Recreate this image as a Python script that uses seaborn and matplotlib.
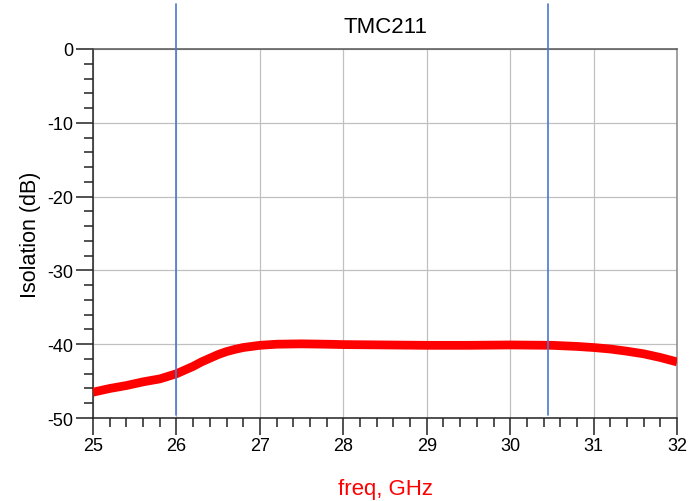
import matplotlib
matplotlib.use("Agg")
import matplotlib.pyplot as plt
from matplotlib.ticker import MultipleLocator
import seaborn as sns
import pandas as pd

freq = [25.0, 25.2, 25.4, 25.6, 25.8, 26.0, 26.1, 26.2, 26.3, 26.4, 26.5, 26.6, 26.7,
        26.8, 26.9, 27.0, 27.2, 27.5, 27.8, 28.0, 28.5, 29.0, 29.5, 30.0, 30.5,
        30.8, 31.0, 31.2, 31.4, 31.6, 31.8, 32.0]
isolation = [-46.5, -46.0, -45.6, -45.1, -44.7, -44.0, -43.5, -43.0, -42.4, -41.9, -41.4, -41.0, -40.7,
             -40.45, -40.3, -40.15, -40.0, -39.95, -40.0, -40.05, -40.1, -40.15, -40.15, -40.1, -40.15,
             -40.3, -40.45, -40.65, -40.95, -41.3, -41.8, -42.4]
markers = [26.0, 30.45]
title = "TMC211"
xlabel = "freq, GHz"
ylabel = "Isolation (dB)"

sns.set_style("white")
plt.rcParams['font.family'] = ['Liberation Sans', 'DejaVu Sans']
plt.rcParams['axes.unicode_minus'] = False
plt.rcParams['text.color'] = 'black'
plt.rcParams['axes.labelcolor'] = 'black'
plt.rcParams['xtick.color'] = 'black'
plt.rcParams['ytick.color'] = 'black'
plt.rcParams['xtick.bottom'] = True
plt.rcParams['ytick.left'] = True
plt.rcParams['xtick.major.size'] = 12
plt.rcParams['ytick.major.size'] = 12
plt.rcParams['xtick.minor.size'] = 6.5
plt.rcParams['ytick.minor.size'] = 6.5
plt.rcParams['xtick.direction'] = 'out'
plt.rcParams['ytick.direction'] = 'out'

fig = plt.figure(figsize=(6.89, 5.02), dpi=100)
ax = fig.add_axes([0.135, 0.1653, 0.8477, 0.7351])

df = pd.DataFrame({"freq": freq, "iso": isolation})
sns.lineplot(data=df, x="freq", y="iso", ax=ax, color="#ff0000", linewidth=6.3,
             solid_capstyle="butt", solid_joinstyle="round", zorder=3)

ax.set_xlim(25, 32)
ax.set_ylim(-50, 0)
ax.xaxis.set_major_locator(MultipleLocator(1))
ax.xaxis.set_minor_locator(MultipleLocator(0.2))
ax.yaxis.set_major_locator(MultipleLocator(10))
ax.yaxis.set_minor_locator(MultipleLocator(2))
ax.grid(True, which="major", color="#c0c0c0", linewidth=0.9, zorder=0)
ax.tick_params(which="major", width=1.1, color="#222222", labelsize=13, pad=2)
ax.tick_params(which="minor", width=1.1, color="#222222")

for side in ["left", "bottom"]:
    ax.spines[side].set_color("#222222")
    ax.spines[side].set_linewidth(1.1)
ax.spines["top"].set_color("#555555")
ax.spines["top"].set_linewidth(1.1)
ax.spines["right"].set_color("#888888")
ax.spines["right"].set_linewidth(1.1)

for m in markers:
    ax.axvline(m, ymin=0.008, ymax=1.122, color="#4a78d0", linewidth=1.2,
               clip_on=False, zorder=4)

ax.set_xlabel(xlabel, color="#ff0000", fontsize=16, labelpad=17)
ax.set_ylabel(ylabel, fontsize=15.5, labelpad=5)
ax.set_title(title, fontsize=16, pad=12)

fig.savefig("out.png", dpi=100)
